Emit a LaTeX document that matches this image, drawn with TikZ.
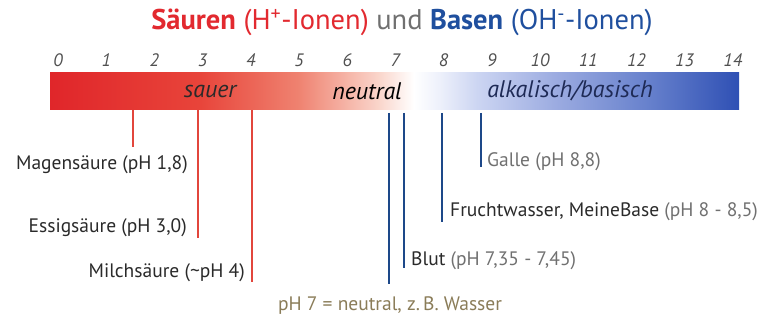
\documentclass[tikz,border=0pt]{standalone}
\usepackage{fontspec}
\setmainfont{PT Sans}
\usepackage{tikz}
\usetikzlibrary{positioning}

\definecolor{acidred}{HTML}{E2292F}
\definecolor{baseblue}{HTML}{1F4F9E}
\definecolor{tickred}{HTML}{E2463C}
\definecolor{tickblue}{HTML}{1D4889}
\definecolor{darktext}{HTML}{2A2A2A}
\definecolor{softtext}{HTML}{707070}
\definecolor{watertext}{HTML}{8A7C58}
\definecolor{numtext}{HTML}{505050}
\definecolor{alktext}{HTML}{1E2A55}

% colours along the scale
\definecolor{barA}{HTML}{E0262A}
\definecolor{barB}{HTML}{E8443A}
\definecolor{barC}{HTML}{EF8270}
\definecolor{barD}{HTML}{FAD6CC}
\definecolor{barE}{HTML}{FFFFFF}
\definecolor{barF}{HTML}{EEF1FB}
\definecolor{barG}{HTML}{CCD5F2}
\definecolor{barH}{HTML}{9AAAE0}
\definecolor{barI}{HTML}{6680CC}
\definecolor{barJ}{HTML}{2F50B4}

\pgfdeclarehorizontalshading{phbar}{100bp}{
  color(0bp)=(barA); color(25bp)=(barA);
  color(35.8bp)=(barB); color(43bp)=(barC);
  color(48.9bp)=(barD); color(51.4bp)=(barE);
  color(53.2bp)=(barF); color(56bp)=(barG);
  color(61.9bp)=(barH); color(68.5bp)=(barI);
  color(75bp)=(barJ); color(100bp)=(barJ)}

\begin{document}
\begin{tikzpicture}[x=1pt, y=-1pt,
    phnum/.style={font=\fontsize{18}{18}\selectfont\itshape, text=numtext, inner sep=0pt},
    barlabel/.style={font=\fontsize{24}{24}\selectfont\itshape, inner sep=0pt},
    sample/.style={font=\fontsize{19.5}{19.5}\selectfont, text=darktext, inner sep=0pt},
    acidline/.style={draw=tickred, line width=2.2pt},
    baseline/.style={draw=tickblue, line width=2.2pt}]
    \useasboundingbox (0,0) rectangle (769,320);

    % title
    \node[font=\fontsize{28.5}{28.5}\selectfont, inner sep=0pt] (title) at (402,22) {%
        \textcolor{acidred}{\textbf{Säuren} (H\textsuperscript{+}-Ionen)}
        \textcolor{softtext}{und}
        \textcolor{baseblue}{\textbf{Basen} (OH\textsuperscript{-}-Ionen)}};

    % scale
    \foreach \n in {0,...,14}
        \node[phnum] (num\n) at (58+48.2*\n,60) {\n};

    \node[shading=phbar, minimum width=689pt, minimum height=37pt, inner sep=0pt] (bar) at (394.5,91.5) {};
    \node[barlabel, text=darktext] (sauer) at (210,91) {sauer};
    \node[barlabel, text=black] (neutral) at (367,91) {neutral};
    \node[barlabel, text=alktext] (alkalisch) at (570,91) {alkalisch/basisch};

    % acids
    \coordinate (magenend) at (133,147);
    \coordinate (essigend) at (198,238);
    \coordinate (milchend) at (252,282);
    \draw[acidline] (bar.south -| magenend) -- (magenend);
    \draw[acidline] (bar.south -| essigend) -- (essigend);
    \draw[acidline] (bar.south -| milchend) -- (milchend);
    \node[sample, anchor=east] (magen) at (188,165) {Magensäure (pH 1,8)};
    \node[sample, anchor=east] (essig) at (187,228) {Essigsäure (pH 3,0)};
    \node[sample, anchor=east] (milch) at (245,273) {Milchsäure (\textasciitilde pH 4)};

    % neutral and bases
    \coordinate (wassertop) at (389,113);
    \coordinate (bluttop) at (404,113);
    \coordinate (fruchttop) at (442,113);
    \coordinate (galletop) at (481,113);
    \node[sample, text=watertext] (wasser) at (390,306) {pH 7 = neutral, z.\,B. Wasser};
    \node[sample, anchor=west] (blut) at (411,261) {Blut \textcolor{softtext}{(pH 7,35 - 7,45)}};
    \node[sample, anchor=west] (frucht) at (450,212) {Fruchtwasser, MeineBase \textcolor{softtext}{(pH 8 - 8,5)}};
    \node[sample, anchor=west, text=softtext] (galle) at (487,162) {Galle (pH 8,8)};
    \draw[baseline] (wassertop) -- (wassertop |- 0,284);
    \draw[baseline] (bluttop) -- (bluttop |- 0,268);
    \draw[baseline] (fruchttop) -- (fruchttop |- 0,222);
    \draw[baseline] (galletop) -- (galletop |- 0,167);
\end{tikzpicture}
\end{document}
